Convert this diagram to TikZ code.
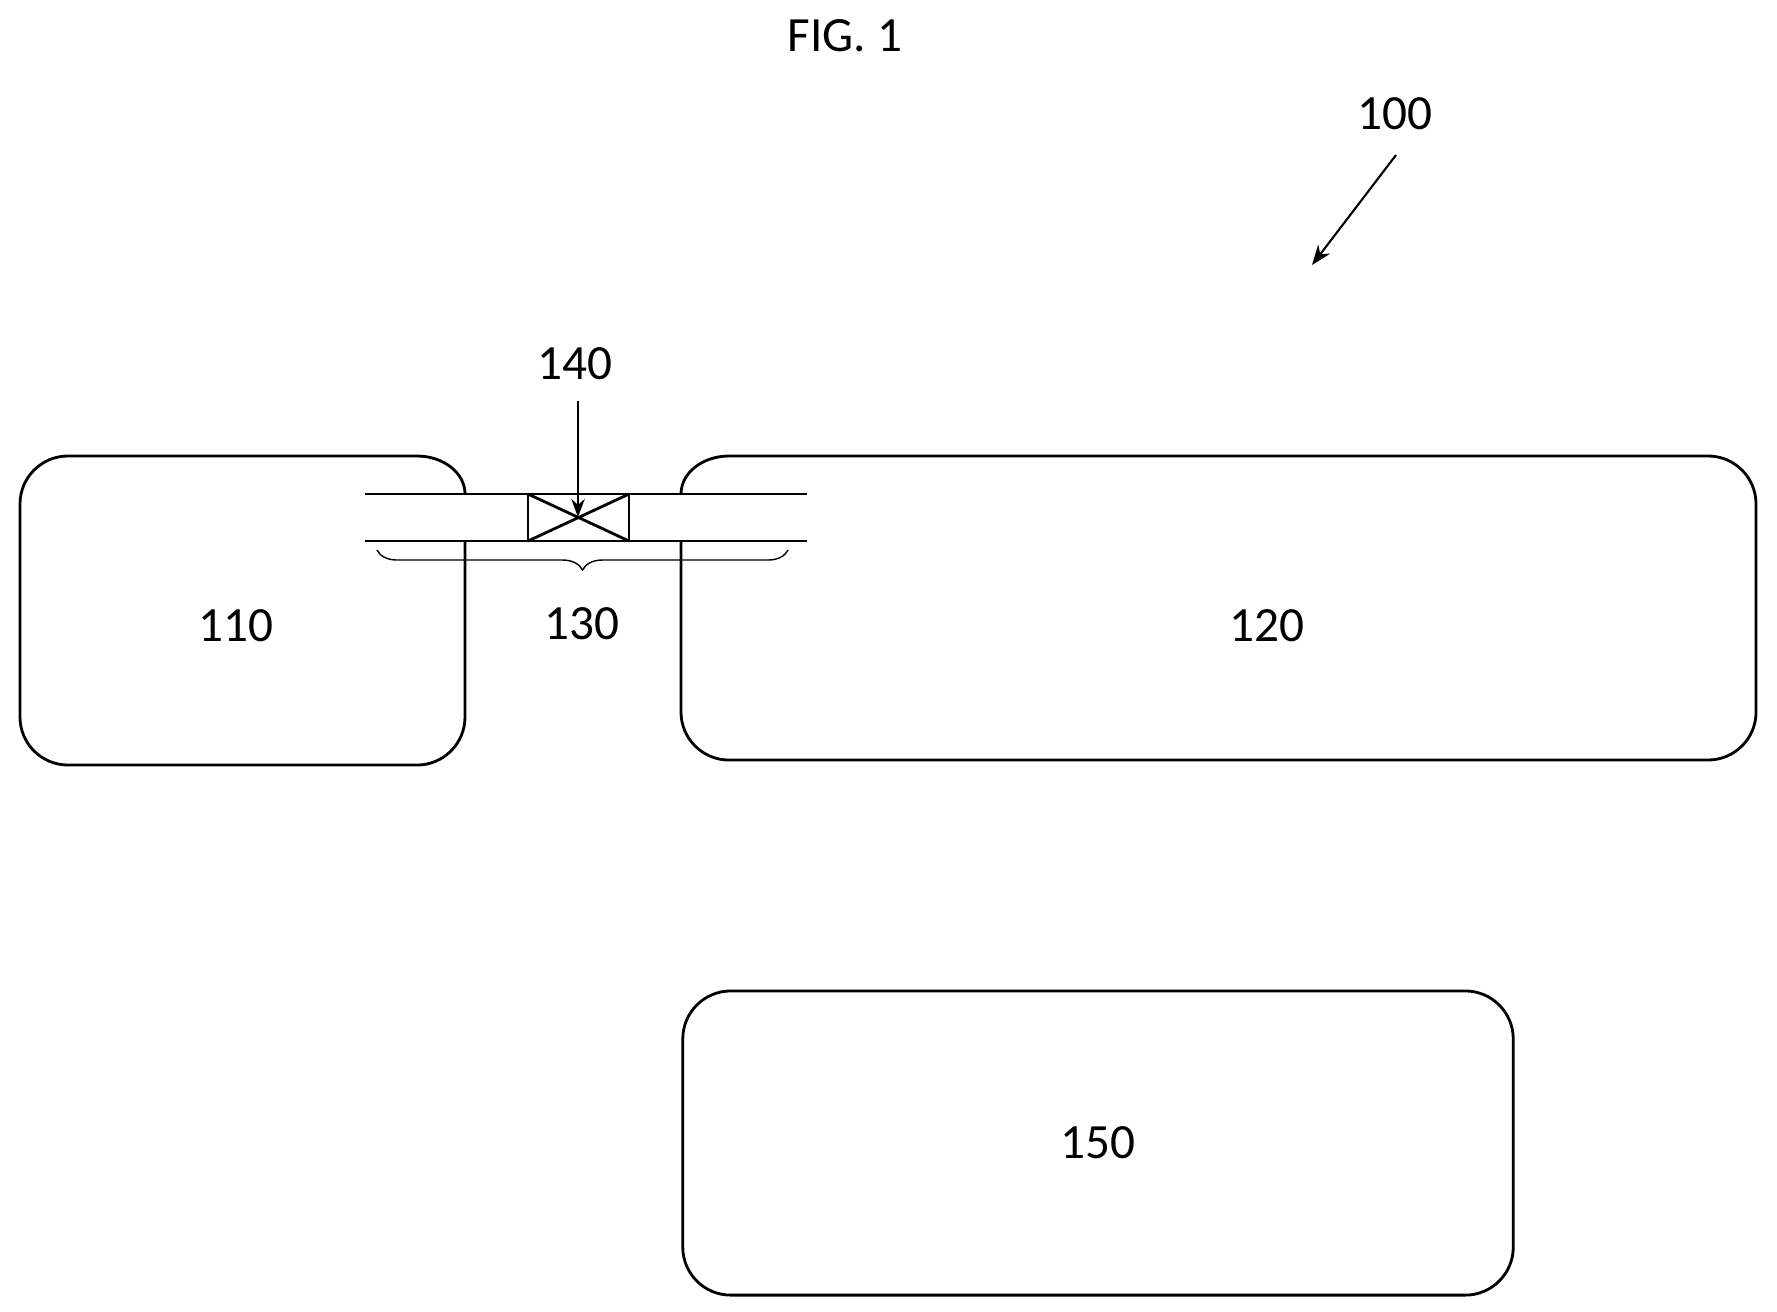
\documentclass[tikz,border=0pt]{standalone}
\usepackage{fontspec}
\setmainfont{Carlito}
\usetikzlibrary{positioning, decorations.pathreplacing, arrows.meta}

\begin{document}
\begin{tikzpicture}[x=0.01cm,y=-0.01cm]
\tikzstyle{tank}=[line width=0.8pt]
\tikzstyle{pipe}=[line width=0.8pt]
\tikzstyle{ref_num}=[font=\fontsize{14}{17}\selectfont]
\useasboundingbox (0,0) rectangle (1777,1311);

% tanks
\draw[tank] (465,541) -- (465,717) arc(0:-90:0.48cm) -- (68,765) arc(270:180:0.48cm)
	-- (20,504) arc(180:90:0.48cm) -- (417,456) arc(90:0:0.48cm and 0.38cm);
\draw[tank] (681,541) -- (681,712) arc(180:270:0.48cm) -- (1708,760) arc(270:360:0.48cm)
	-- (1756,504) arc(0:90:0.48cm) -- (729,456) arc(90:180:0.48cm and 0.38cm);
\node[tank, draw, rounded corners=0.48cm, minimum width=8.30cm, minimum height=3.04cm]
	(tank_c) at (1098,1143) {};

% pipe and valve
\draw[pipe] (365,494) -- (807,494);
\draw[pipe] (365,541) -- (807,541);
\draw[pipe] (528,494) rectangle (629,541);
\draw[pipe] (528,494) -- (629,541) (528,541) -- (629,494);
\coordinate (valve) at (578,517);
\draw[decorate, decoration={brace, mirror, amplitude=0.2cm}, line width=0.4pt]
	(377,550) -- (788,550);

% labels
\node[ref_num] (fig) at (845,36) {FIG. 1};
\node[ref_num] (l100) at (1395,114) {100};
\node[ref_num] (l110) at (236,626) {110};
\node[ref_num] (l120) at (1267,626) {120};
\node[ref_num] (l130) at (582,624) {130};
\node[ref_num] (l140) at (575,364) {140};
\node[ref_num] (l150) at (tank_c) {150};

\draw[-{Stealth[length=0.2cm]}, line width=0.6pt] (1396,155) -- (1312,265);
\draw[-{Stealth[length=0.18cm]}, line width=0.6pt] (l140.south -| valve) ++(0,8) -- (valve);
\end{tikzpicture}
\end{document}
